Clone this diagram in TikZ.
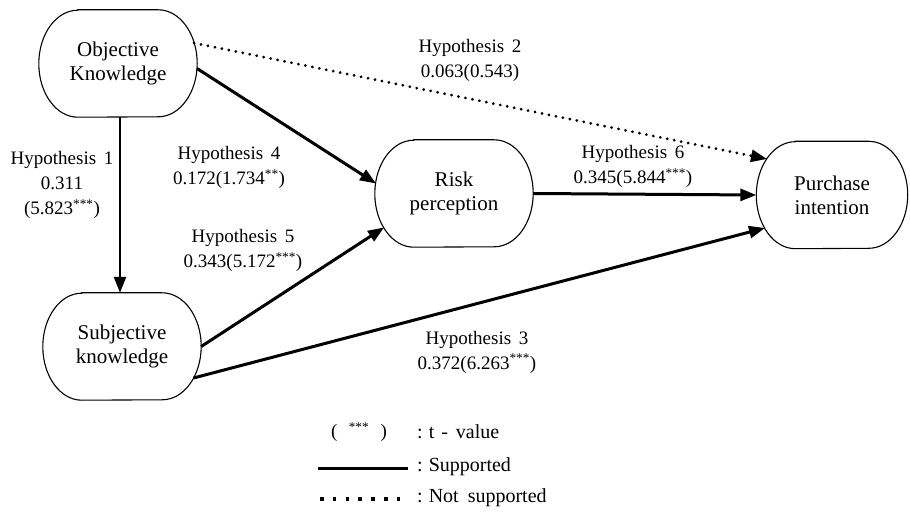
\documentclass[tikz,border=0pt]{standalone}
\usepackage{fontspec}
\setmainfont{Liberation Serif}
\usetikzlibrary{arrows.meta}
\newcommand\ovalframe[1]{%
  \draw[line width=1.1pt]
    ([xshift=39pt]#1.north west) -- ([xshift=-39pt]#1.north east)
    arc[start angle=90,end angle=-90,x radius=39pt,y radius=53.5pt]
    -- ([xshift=39pt]#1.south west)
    arc[start angle=270,end angle=90,x radius=39pt,y radius=53.5pt]
    -- cycle;}
\begin{document}
\begin{tikzpicture}[x=1pt,y=-1pt,
  box/.style={minimum width=158pt, minimum height=107pt, align=center, inner sep=0pt, font=\fontsize{21}{24}\selectfont},
  lbl/.style={align=center, inner sep=0pt, font=\fontsize{19}{25}\selectfont},
  leg/.style={anchor=west, inner sep=0pt, font=\fontsize{20}{24}\selectfont},
  sup/.style={line width=3pt, -{Triangle[length=16pt,width=12pt]}},
  nsup/.style={line width=3pt, line cap=round, dash pattern=on 0.1pt off 7pt, -{Triangle[length=16pt,width=12pt]}}
]
\useasboundingbox (0,0) rectangle (910,526);

\node[box] (ok) at (118,63.5) {Objective\\Knowledge};
\node[box] (sk) at (122,346.5) {Subjective\\knowledge};
\node[box] (rp) at (454,193.5) {Risk\\perception};
\node[box, minimum width=151pt] (pi) at (832,195) {Purchase\\intention};
\ovalframe{ok}
\ovalframe{sk}
\ovalframe{rp}
\ovalframe{pi}

% connectors
\draw[sup, line width=2.6pt] ([shift={(2,0)}]ok.south) -- ([shift={(-2,0)}]sk.north);
\draw[nsup] ([shift={(76,-20.5)}]ok.center) -- ([shift={(-65,-36)}]pi.center);
\draw[sup] ([shift={(79,5)}]ok.center) -- ([shift={(-78,-10)}]rp.center);
\draw[sup] (sk.east) -- ([shift={(-70,34)}]rp.center);
\draw[sup] ([shift={(71.5,31.5)}]sk.center) -- ([shift={(-67,33)}]pi.center);
\draw[sup] (rp.east) -- (pi.west);

% labels
\node[lbl] (l1) at (62,185) {Hypothesis\hspace{0.4em}1\\0.311\\(5.823\textsuperscript{***})};
\node[lbl] (l2) at (470,60) {Hypothesis\hspace{0.4em}2\\0.063(0.543)};
\node[lbl] (l4) at (229,167.5) {Hypothesis\hspace{0.4em}4\\0.172(1.734\textsuperscript{**})};
\node[lbl] (l5) at (243,250.5) {Hypothesis\hspace{0.4em}5\\0.343(5.172\textsuperscript{***})};
\node[lbl] (l6) at (633,166.5) {Hypothesis\hspace{0.4em}6\\0.345(5.844\textsuperscript{***})};
\node[lbl] (l3) at (477,352) {Hypothesis\hspace{0.4em}3\\0.372(6.263\textsuperscript{***})};

% legend
\node[inner sep=0pt, font=\fontsize{19}{24}\selectfont] (lt) at (359,432) {(\hspace{0.6em}\textsuperscript{***}\hspace{0.6em})};
\node[leg] (ltv) at (417,432) {:\hspace{0.3em}t\hspace{0.35em}-\hspace{0.4em}value};
\coordinate (ls1) at (318,468);
\coordinate (ls2) at (408,468);
\draw[line width=3pt] (ls1) -- (ls2);
\node[leg] (lsv) at (417,467) {:\hspace{0.3em}Supported};
\coordinate (ld1) at (320,499);
\coordinate (ld2) at (408,499);
\draw[line width=3.5pt, dash pattern=on 3.5pt off 9.3pt] (ld1) -- (ld2);
\node[leg] (ldv) at (417,498) {:\hspace{0.3em}Not\hspace{0.45em}supported};
\end{tikzpicture}
\end{document}
